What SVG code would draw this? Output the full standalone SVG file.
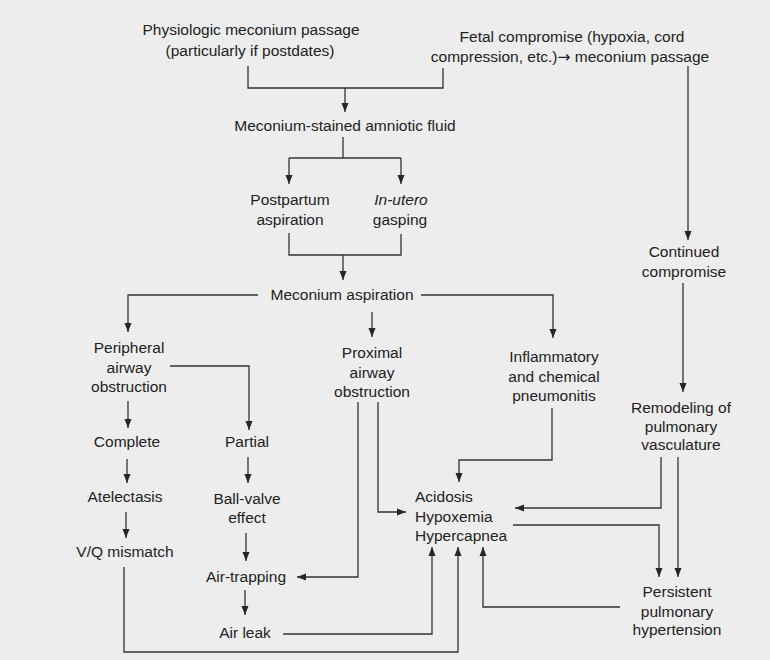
<svg xmlns="http://www.w3.org/2000/svg" width="770" height="660" viewBox="0 0 770 660">
<defs>
<style>
text{font-family:"Liberation Sans",Arial,sans-serif;font-size:15.5px;fill:#222;text-anchor:middle}
.l{text-anchor:start}
.it{font-style:italic}
.ar{font-family:"DejaVu Sans",sans-serif}
.c{fill:none;stroke:#333;stroke-width:1.3}
</style>
<marker id="ah" markerUnits="userSpaceOnUse" markerWidth="10" markerHeight="8" refX="9" refY="4" orient="auto">
<path d="M0,0.5 L9,4 L0,7.5 z" fill="#262626"/>
</marker>
</defs>
<rect width="770" height="660" fill="#ededed"/>
<g id="connectors">
<path class="c" d="M248,66 V88 H443 V68"/>
<path class="c" d="M345,88 V112" marker-end="url(#ah)"/>
<path class="c" d="M688,66 V240" marker-end="url(#ah)"/>
<path class="c" d="M343,137 V158"/>
<path class="c" d="M289,158 H401"/>
<path class="c" d="M289,158 V184" marker-end="url(#ah)"/>
<path class="c" d="M401,158 V184" marker-end="url(#ah)"/>
<path class="c" d="M289,233 V255 H401 V234"/>
<path class="c" d="M343,255 V280" marker-end="url(#ah)"/>
<path class="c" d="M258,295 H128 V332" marker-end="url(#ah)"/>
<path class="c" d="M421,295 H553 V338" marker-end="url(#ah)"/>
<path class="c" d="M372,312 V337" marker-end="url(#ah)"/>
<path class="c" d="M170,366 H249 V430" marker-end="url(#ah)"/>
<path class="c" d="M128,401 V428" marker-end="url(#ah)"/>
<path class="c" d="M127,459 V483" marker-end="url(#ah)"/>
<path class="c" d="M126,512 V538" marker-end="url(#ah)"/>
<path class="c" d="M248,457 V483" marker-end="url(#ah)"/>
<path class="c" d="M246,533 V561" marker-end="url(#ah)"/>
<path class="c" d="M245,590 V615" marker-end="url(#ah)"/>
<path class="c" d="M378,402 V512 H406" marker-end="url(#ah)"/>
<path class="c" d="M358,402 V577 H297" marker-end="url(#ah)"/>
<path class="c" d="M552,408 V460 H459 V482" marker-end="url(#ah)"/>
<path class="c" d="M683,283 V392" marker-end="url(#ah)"/>
<path class="c" d="M661,457 V508 H515" marker-end="url(#ah)"/>
<path class="c" d="M678,457 V577" marker-end="url(#ah)"/>
<path class="c" d="M513,525 H659 V577" marker-end="url(#ah)"/>
<path class="c" d="M124,567 V652 H458 V547" marker-end="url(#ah)"/>
<path class="c" d="M283,634 H432 V547" marker-end="url(#ah)"/>
<path class="c" d="M620,607 H483 V547" marker-end="url(#ah)"/>
</g>
<g id="physiologic"><text x="251" y="35">Physiologic meconium passage</text><text x="250" y="56">(particularly if postdates)</text></g>
<g id="fetal"><text x="572" y="42">Fetal compromise (hypoxia, cord</text><text x="570" y="62">compression, etc.)<tspan class="ar">→</tspan> meconium passage</text></g>
<g id="msaf"><text x="345" y="131">Meconium-stained amniotic fluid</text></g>
<g id="postpartum"><text x="290" y="205">Postpartum</text><text x="290" y="225">aspiration</text></g>
<g id="inutero"><text x="401" y="205" class="it">In-utero</text><text x="400" y="225">gasping</text></g>
<g id="aspiration"><text x="342" y="300">Meconium aspiration</text></g>
<g id="continued"><text x="684" y="257">Continued</text><text x="684" y="277">compromise</text></g>
<g id="peripheral"><text x="129" y="353">Peripheral</text><text x="129" y="373">airway</text><text x="129" y="392">obstruction</text></g>
<g id="proximal"><text x="372" y="358">Proximal</text><text x="372" y="378">airway</text><text x="372" y="397">obstruction</text></g>
<g id="inflammatory"><text x="554" y="362">Inflammatory</text><text x="554" y="382">and chemical</text><text x="554" y="401">pneumonitis</text></g>
<g id="complete"><text x="127" y="447">Complete</text></g>
<g id="partial"><text x="247" y="447">Partial</text></g>
<g id="atelectasis"><text x="125" y="502">Atelectasis</text></g>
<g id="ballvalve"><text x="247" y="504">Ball-valve</text><text x="247" y="523">effect</text></g>
<g id="vq"><text x="125" y="557">V/Q mismatch</text></g>
<g id="airtrapping"><text x="246" y="582">Air-trapping</text></g>
<g id="airleak"><text x="245" y="638">Air leak</text></g>
<g id="remodeling"><text x="681" y="413">Remodeling of</text><text x="681" y="432">pulmonary</text><text x="681" y="450">vasculature</text></g>
<g id="acidosis"><text x="415" y="502" class="l">Acidosis</text><text x="415" y="522" class="l">Hypoxemia</text><text x="415" y="541" class="l">Hypercapnea</text></g>
<g id="persistent"><text x="677" y="597">Persistent</text><text x="677" y="617">pulmonary</text><text x="677" y="635">hypertension</text></g>
</svg>
